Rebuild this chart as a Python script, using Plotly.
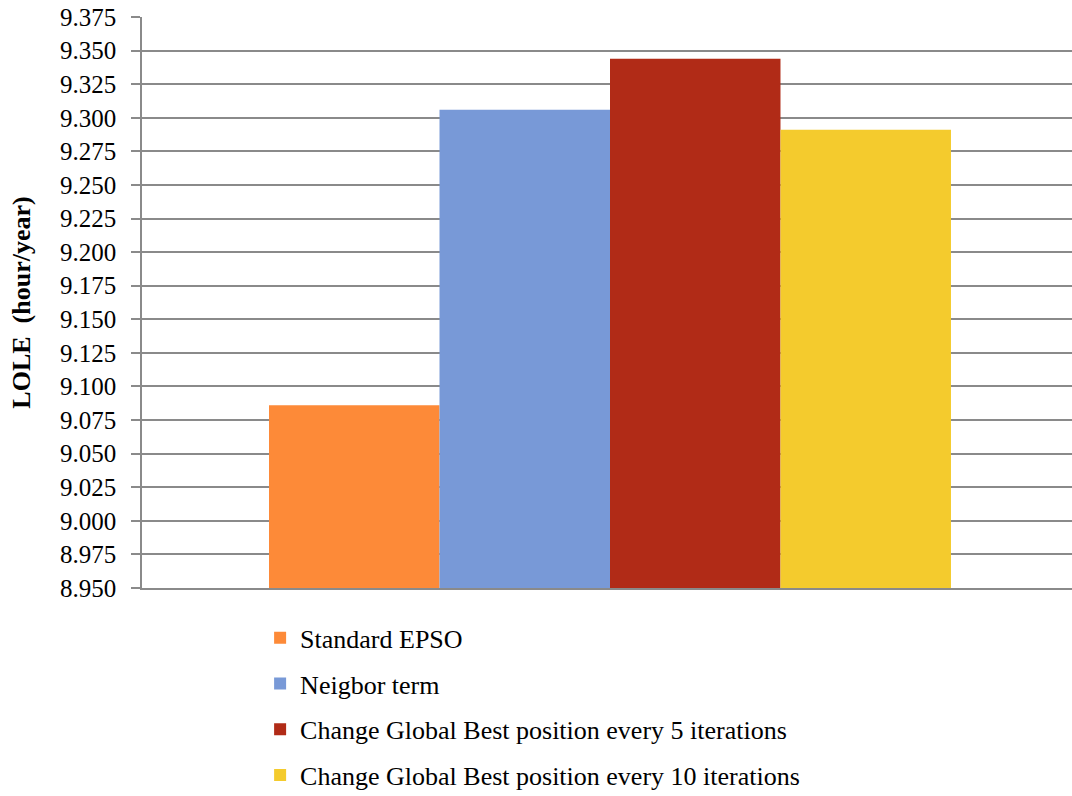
import plotly.graph_objects as go

# LOLE results for each EPSO variant
methods = [
    "Standard EPSO",
    "Neigbor term",
    "Change Global Best position every 5 iterations",
    "Change Global Best position every 10 iterations",
]
lole = [9.086, 9.306, 9.344, 9.291]
colors = ["#FD8A38", "#7899D7", "#B12B17", "#F4CB2D"]
category = [""]

y_ticks = [round(8.95 + 0.025 * i, 3) for i in range(18)]

font_family = "Liberation Serif"

fig = go.Figure()
for i, (name, val, col) in enumerate(zip(methods, lole, colors)):
    fig.add_trace(
        go.Bar(
            x=category,
            y=[val],
            name=name,
            legendgroup=f"g{i}",
            marker=dict(color=col, line=dict(width=0)),
        )
    )

fig.update_layout(
    width=1072,
    height=796,
    barmode="group",
    bargap=0.2714,
    bargroupgap=0,
    paper_bgcolor="white",
    plot_bgcolor="white",
    margin=dict(l=142, r=0, t=17, b=208, autoexpand=False),
    font=dict(family=font_family, size=24, color="black"),
    showlegend=True,
    legend=dict(
        x=0.127,
        y=-0.046,
        xanchor="left",
        yanchor="top",
        orientation="v",
        traceorder="grouped",
        tracegroupgap=9,
        font=dict(family=font_family, size=26, color="black"),
        bgcolor="rgba(0,0,0,0)",
    ),
    xaxis=dict(
        range=[-0.5, 0.4936],
        showticklabels=False,
        ticks="",
        showgrid=False,
        showline=True,
        linecolor="#8a8a8a",
        linewidth=1.5,
        zeroline=False,
        fixedrange=True,
    ),
    yaxis=dict(
        range=[8.95, 9.375],
        tickvals=y_ticks,
        tickformat=".3f",
        ticks="outside",
        ticklen=9,
        tickcolor="#8a8a8a",
        tickwidth=1.5,
        ticklabelstandoff=10,
        showgrid=True,
        gridcolor="#8a8a8a",
        gridwidth=1.5,
        showline=True,
        linecolor="#8a8a8a",
        linewidth=1.5,
        zeroline=False,
        tickfont=dict(family=font_family, size=25, color="black"),
        title=dict(
            text="<b>LOLE  (hour/year)</b>",
            font=dict(family=font_family, size=26, color="black"),
            standoff=22,
        ),
    ),
)

fig.write_html("out.html")
